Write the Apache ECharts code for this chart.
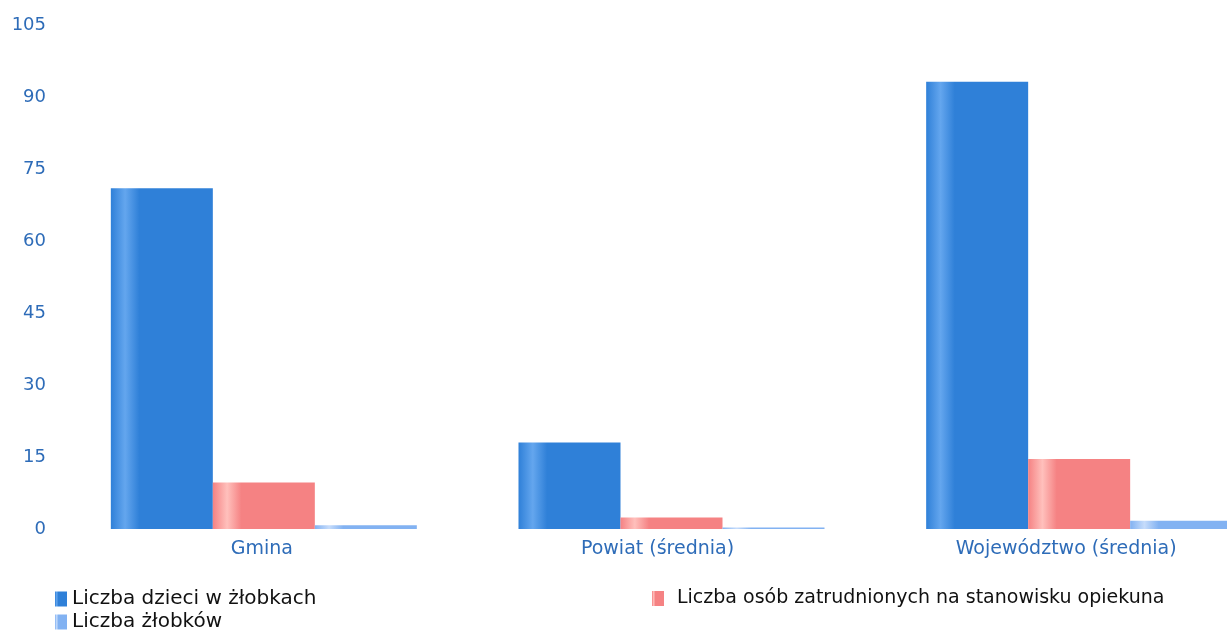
<!DOCTYPE html>
<html><head><meta charset="utf-8">
<script src="https://cdn.jsdelivr.net/npm/echarts@6/dist/echarts.min.js"></script>
<style>html,body{margin:0;padding:0;background:#fff;overflow:hidden;width:1227px;height:631px}#c{width:1284px;height:631px}</style>
</head><body><div id="c"></div>
<script>
const categories = ['Gmina', 'Powiat (średnia)', 'Województwo (średnia)'];
const seriesNames = ['Liczba dzieci w żłobkach', 'Liczba osób zatrudnionych na stanowisku opiekuna', 'Liczba żłobków'];
const dzieci = [71, 18, 93.2];
const opiekunowie = [9.7, 2.4, 14.6];
const zlobki = [0.8, 0.3, 1.7];
const yTicks = [0, 15, 30, 45, 60, 75, 90, 105];

function grad(dark, light) {
  return new echarts.graphic.LinearGradient(0, 0, 1, 0, [
    {offset: 0, color: dark},
    {offset: 0.14, color: light},
    {offset: 0.28, color: dark},
    {offset: 1, color: dark}
  ]);
}
const colBlue = grad('#2f80d8', '#64a6ee');
const colRed = grad('#f58283', '#ffc0bc');
const colLight = grad('#82b2f2', '#c6dcfb');

const labelShift = [4, 28, 26];
const chart = echarts.init(document.getElementById('c'));
const legendText = {color: '#111', fontSize: 20, fontFamily: 'DejaVu Sans'};
chart.setOption({
  animation: false,
  grid: {left: 60, top: 25, bottom: 102, right: 1},
  xAxis: {
    type: 'category',
    data: categories.map((c, i) => ({value: c, textStyle: {padding: [0, labelShift[i], 0, 0]}})),
    axisLine: {show: false}, axisTick: {show: false},
    axisLabel: {color: '#2e6cb8', fontSize: 19, fontFamily: 'DejaVu Sans', margin: 11}
  },
  yAxis: {
    type: 'value', min: yTicks[0], max: yTicks[yTicks.length - 1], interval: 15,
    splitLine: {show: false}, axisLine: {show: false}, axisTick: {show: false},
    axisLabel: {color: '#2e6cb8', fontSize: 18, fontFamily: 'DejaVu Sans', margin: 14}
  },
  legend: [
    {left: 50, top: 584, icon: 'rect', itemWidth: 12, itemHeight: 15, data: [seriesNames[0]], textStyle: legendText},
    {left: 647, top: 584, icon: 'rect', itemWidth: 12, itemHeight: 15, data: [seriesNames[1]], textStyle: Object.assign({}, legendText, {fontSize: 19, padding: [0, 0, 0, 8]})},
    {left: 50, top: 607, icon: 'rect', itemWidth: 12, itemHeight: 15, data: [seriesNames[2]], textStyle: legendText}
  ],
  series: [
    {name: seriesNames[0], type: 'bar', data: dzieci, barWidth: 102, barGap: '0%', itemStyle: {color: colBlue}},
    {name: seriesNames[1], type: 'bar', data: opiekunowie, barWidth: 102, itemStyle: {color: colRed}},
    {name: seriesNames[2], type: 'bar', data: zlobki, barWidth: 102, itemStyle: {color: colLight}}
  ]
});
</script></body></html>
